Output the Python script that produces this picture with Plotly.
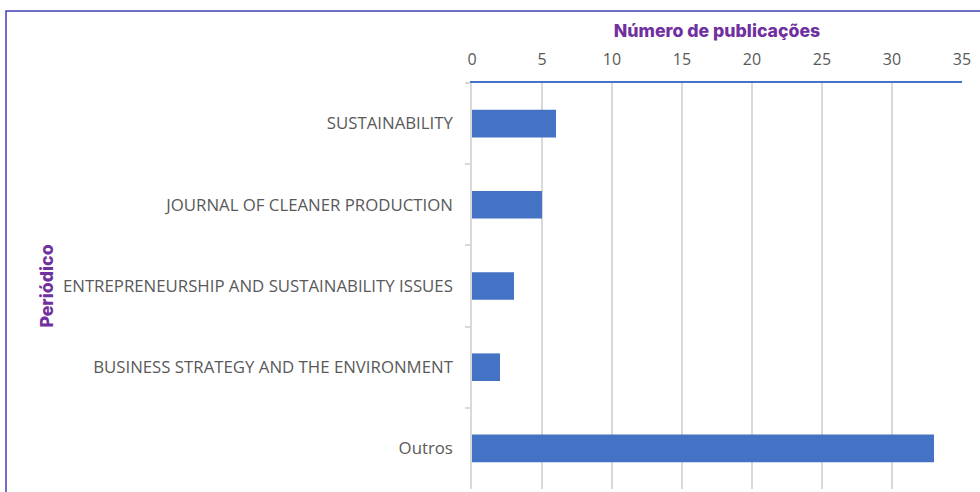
import plotly.graph_objects as go

categories = ["SUSTAINABILITY", "JOURNAL OF CLEANER PRODUCTION",
              "ENTREPRENEURSHIP AND SUSTAINABILITY ISSUES",
              "BUSINESS STRATEGY AND THE ENVIRONMENT", "Outros"]
values = [6, 5, 3, 2, 33]
x_ticks = [0, 5, 10, 15, 20, 25, 30, 35]

W, H = 980, 492
L, R, T, B = 472, 18, 83, 3
pw, ph = W - L - R, H - T - B

title_font = dict(family="Inter", weight=800, size=17.7, color="#7030A0")

fig = go.Figure(go.Bar(
    x=values, y=categories, orientation="h",
    marker=dict(color="#4472C4", line=dict(width=0)),
    width=0.34,
))

fig.update_layout(
    width=W, height=H,
    margin=dict(l=L, r=R, t=T, b=B, pad=0),
    paper_bgcolor="white", plot_bgcolor="white",
    showlegend=False,
    font=dict(family="Open Sans", color="#595959", size=16),
    xaxis=dict(
        side="top", range=[0, 35], tickvals=x_ticks,
        showgrid=True, gridcolor="#D9D9D9", gridwidth=1.5,
        showline=True, linecolor="#4472C4", linewidth=2,
        ticks="", ticklabelstandoff=10,
        tickfont=dict(family="Open Sans", size=16, color="#595959"),
        zeroline=False,
        title=dict(text="Número de publicações", standoff=5, font=title_font),
    ),
    yaxis=dict(
        categoryorder="array", categoryarray=categories, autorange="reversed",
        showgrid=False, showline=True, linecolor="#D9D9D9", linewidth=1.5,
        ticks="outside", ticklen=5, tickcolor="#D9D9D9", tickwidth=1.5,
        tickson="boundaries", ticklabelstandoff=14,
        tickfont=dict(family="Open Sans", size=16.8, color="#595959"),
        title=dict(text="Periódico", standoff=5, font=title_font),
    ),
)

# outer chart frame
fig.add_shape(type="rect", xref="paper", yref="paper",
              x0=(6 - L) / pw, x1=(W + 10 - L) / pw,
              y0=-(20) / ph, y1=1 + (T - 11) / ph,
              line=dict(color="#3F3FB5", width=1.5), fillcolor="rgba(0,0,0,0)",
              layer="below")

fig.write_html("out.html")
